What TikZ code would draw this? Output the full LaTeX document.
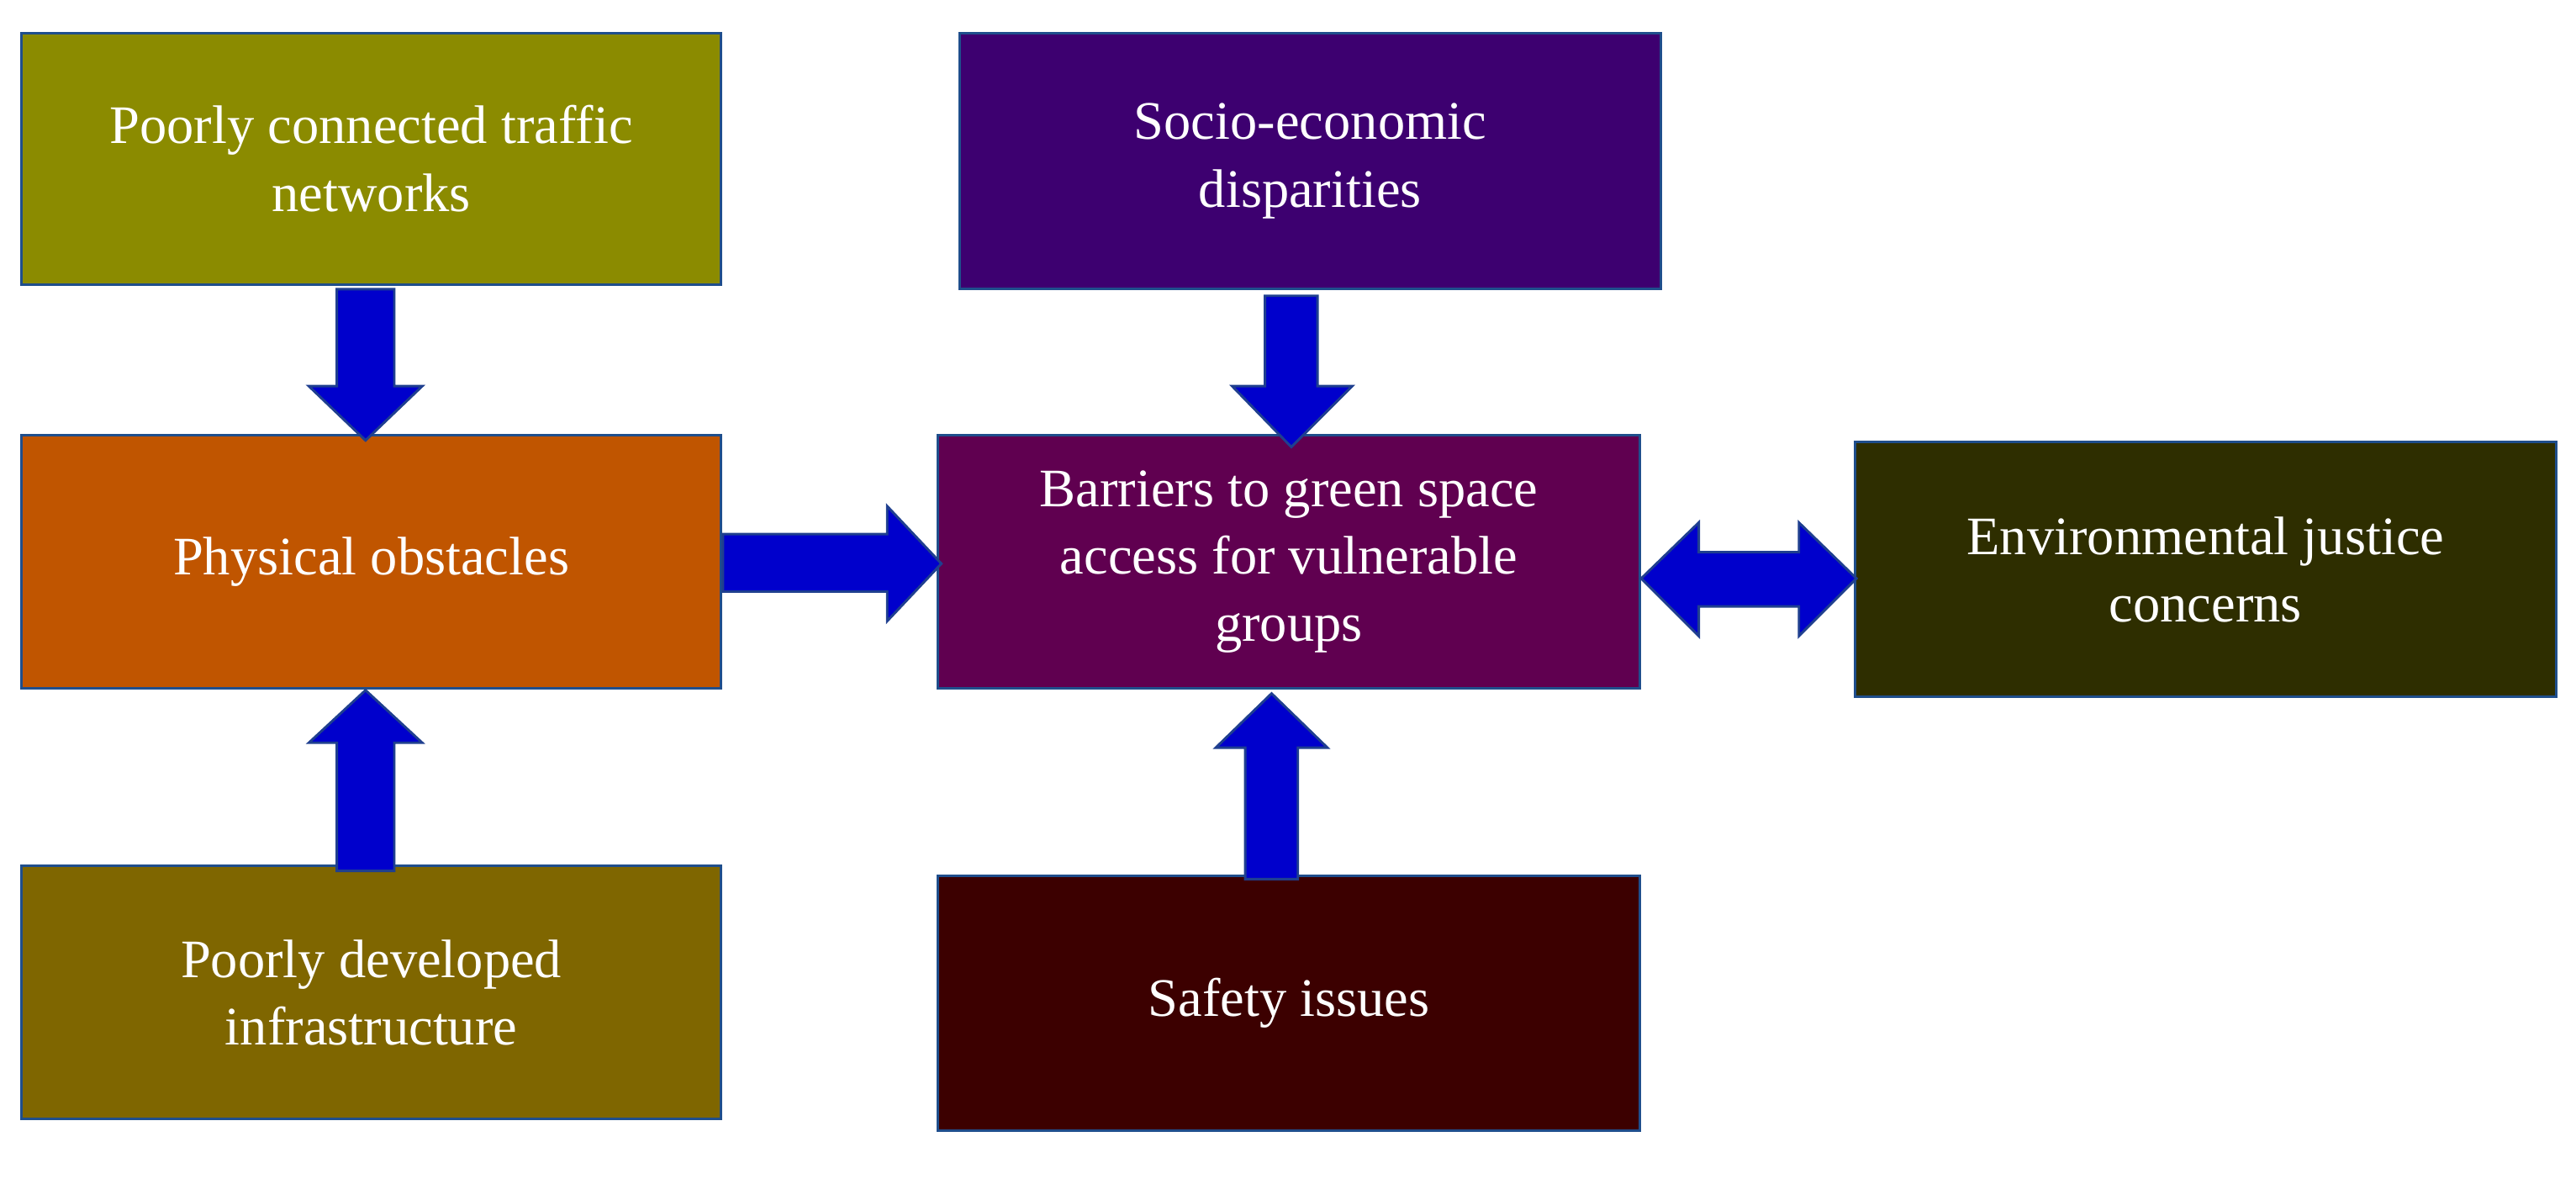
\documentclass[tikz,border=0pt]{standalone}
\usepackage{fontspec}
\setmainfont{Liberation Serif}
\begin{document}
\begin{tikzpicture}[x=1pt,y=-1pt,
  box/.style={draw=boxline,line width=1.5pt,text=white,align=center,inner sep=0pt,
    font=\fontsize{33}{41}\selectfont},
  barrow/.style={fill=arrowblue,draw=arrowline,line width=1.5pt,line join=miter}]
\definecolor{boxline}{HTML}{1F4E8C}
\definecolor{arrowblue}{HTML}{0000CC}
\definecolor{arrowline}{HTML}{1F3F8F}
\useasboundingbox (0,0) rectangle (1568,717);
\tikzset{mk/.style args={#1/#2/#3/#4/#5}{}}
\newcommand{\bx}[6]{\node[box,fill=#6,minimum width={#4-#2},minimum height={#5-#3}] (#1) at ({(#2+#4)/2},{(#3+#5)/2}) {#1x};}
\node[box,fill={rgb,255:red,139;green,139;blue,0},minimum width=426,minimum height=153] (A) at (226,96.5) {Poorly connected traffic\\networks};
\node[box,fill={rgb,255:red,61;green,0;blue,112},minimum width=427,minimum height=156] (B) at (797.5,98) {Socio-economic\\disparities};
\node[box,fill={rgb,255:red,192;green,85;blue,0},minimum width=426,minimum height=154] (C) at (226,342) {Physical obstacles};
\node[box,fill={rgb,255:red,96;green,0;blue,80},minimum width=427,minimum height=154] (D) at (784.5,342) {Barriers to green space\\access for vulnerable\\groups};
\node[box,fill={rgb,255:red,46;green,46;blue,0},minimum width=427,minimum height=155] (E) at (1342.5,346.5) {Environmental justice\\concerns};
\node[box,fill={rgb,255:red,127;green,102;blue,0},minimum width=426,minimum height=154] (F) at (226,604) {Poorly developed\\infrastructure};
\node[box,fill={rgb,255:red,60;green,0;blue,0},minimum width=427,minimum height=155] (G) at (784.5,610.5) {Safety issues};
% A -> C
\draw[barrow] (205,176) -- (240,176) -- (240,235) -- (257,235) -- (222.5,268) -- (188,235) -- (205,235) -- cycle;
% B -> D
\draw[barrow] (770,180) -- (802,180) -- (802,235) -- (823,235) -- (786,272) -- (750,235) -- (770,235) -- cycle;
% C -> D
\draw[barrow] (440,325) -- (540,325) -- (540,308) -- (573,343) -- (540,378) -- (540,360) -- (440,360) -- cycle;
% F -> C
\draw[barrow] (205,530) -- (240,530) -- (240,452) -- (257,452) -- (222.5,420) -- (188,452) -- (205,452) -- cycle;
% G -> D
\draw[barrow] (758,535) -- (790,535) -- (790,455) -- (808,455) -- (774,422) -- (740,455) -- (758,455) -- cycle;
% D <-> E
\draw[barrow] (999,352) -- (1034,318) -- (1034,336) -- (1095,336) -- (1095,318) -- (1130,352) -- (1095,387) -- (1095,369) -- (1034,369) -- (1034,387) -- cycle;
\end{tikzpicture}
\end{document}
